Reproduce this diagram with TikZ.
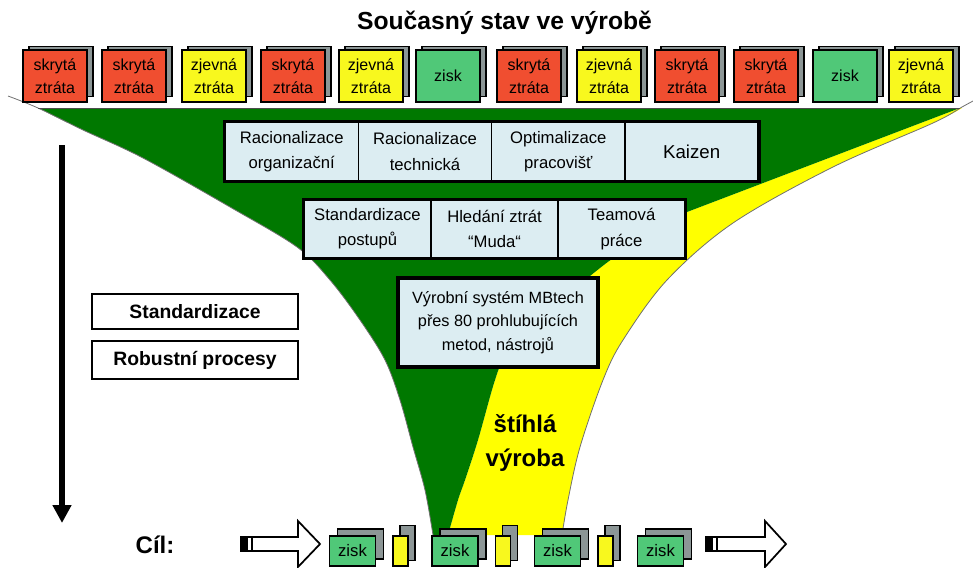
\documentclass[tikz,border=0pt]{standalone}
\usepackage{fontspec}
\setmainfont{Liberation Sans}
\usetikzlibrary{arrows.meta}
\definecolor{zred}{HTML}{F04E30}
\definecolor{zyel}{HTML}{F8F81E}
\definecolor{zgrn}{HTML}{50C878}
\definecolor{zgry}{HTML}{8C9696}
\definecolor{fgrn}{HTML}{007800}
\definecolor{fyel}{HTML}{FFFF00}
\definecolor{cellc}{HTML}{DCEDF2}
\definecolor{edgec}{HTML}{707070}
\begin{document}
\begin{tikzpicture}[x=0.75pt,y=-0.75pt,
  topbox/.style={draw=black, line width=0.9pt, minimum width=48pt, minimum height=39pt, inner sep=0pt, align=center, font=\fontsize{12}{17}\selectfont},
  shadowbox/.style={draw=black, line width=0.9pt, fill=zgry, minimum width=48pt, minimum height=38pt, inner sep=0pt},
  cellbox/.style={draw=black, line width=0.8pt, fill=cellc, inner sep=0pt, align=center, font=\fontsize{12.5}{19}\selectfont},
  frame/.style={draw=black, line width=2.6pt},
  labelbox/.style={draw=black, line width=2pt, fill=white, minimum width=154.5pt, inner sep=0pt, font=\bfseries\fontsize{14.5}{17}\selectfont},
  bzisk/.style={draw=black, line width=0.9pt, fill=zgrn, minimum width=34.5pt, minimum height=22.5pt, inner sep=0pt, font=\fontsize{12.5}{14}\selectfont},
  bshadow/.style={draw=black, line width=0.9pt, fill=zgry, minimum width=34.5pt, minimum height=22.5pt, inner sep=0pt},
  ybar/.style={draw=black, line width=0.9pt, fill=zyel, minimum width=11.25pt, minimum height=22.5pt, inner sep=0pt},
  gbar/.style={draw=black, line width=0.9pt, fill=zgry, minimum width=11.25pt, minimum height=26pt, inner sep=0pt},
  blockarrow/.style={draw=black, line width=1.3pt, fill=white, line join=miter}
]
\useasboundingbox (0,0) rectangle (973,567);

% funnel: yellow part
\fill[fyel] plot[smooth, tension=0.55] coordinates {(962,108) (933,123) (833,167) (733,223) (667,280) (623,340) (603,380) (580,447) (568,500) (562,535)}
  -- plot[smooth, tension=0.55] coordinates {(448,535) (458,500) (465,480) (478,440) (495,380) (505,360) (545,315) (600,268) (640,240) (687,212)}
  -- (960,108) -- cycle;
% funnel: green part
\fill[fgrn] (38,108) -- (960,108) -- (687,212)
  -- plot[smooth, tension=0.55] coordinates {(687,212) (640,240) (600,268) (545,315) (505,360) (495,380) (478,440) (465,480) (458,500) (448,535)}
  -- plot[smooth, tension=0.55] coordinates {(433,535) (425,490) (413,447) (400,400) (385,360) (360,320) (330,280) (297,247) (230,207) (143,158) (83,130) (38,108)}
  -- cycle;
% funnel outlines
\draw[edgec, line width=0.6pt] plot[smooth, tension=0.55] coordinates {(8,96) (38,108) (83,130) (143,158) (230,207) (297,247) (330,280) (360,320) (385,360) (400,400) (413,447) (425,490) (433,535)};
\draw[edgec, line width=0.6pt] plot[smooth, tension=0.55] coordinates {(973,101) (962,107) (933,123) (833,167) (733,223) (667,280) (623,340) (603,380) (580,447) (568,500) (562,535)};
\draw[black!70, line width=0.6pt] (38,108) -- (960,108);

% title
\node[font=\bfseries\fontsize{18.5}{20}\selectfont] (title) at (504.5,23) {Současný stav ve výrobě};

% top row of boxes
\foreach \i/\l/\c/\t in {1/23/zred/{skrytá\\ztráta}, 2/102/zred/{skrytá\\ztráta}, 3/182/zyel/{zjevná\\ztráta}, 4/261/zred/{skrytá\\ztráta}, 5/339/zyel/{zjevná\\ztráta}, 6/416/zgrn/{zisk}, 7/497/zred/{skrytá\\ztráta}, 8/577/zyel/{zjevná\\ztráta}, 9/655/zred/{skrytá\\ztráta}, 10/734/zred/{skrytá\\ztráta}, 11/813/zgrn/{zisk}, 12/889/zyel/{zjevná\\ztráta}} {
  \node[shadowbox] (s\i) at (\l+38,71.5) {};
  \node[topbox, fill=\c] (t\i) at (\l+32,76) {\t};
}

% first row of methods
\node[cellbox, minimum width=100pt, minimum height=44.25pt] (ra) at (291.67,151.5) {Racionalizace\\organizační};
\node[cellbox, minimum width=100pt, minimum height=44.25pt] (rb) at (425,151.5) {Racionalizace\\technická};
\node[cellbox, minimum width=100pt, minimum height=44.25pt] (rc) at (558.33,151.5) {Optimalizace\\pracovišť};
\node[cellbox, minimum width=100pt, minimum height=44.25pt, font=\fontsize{14}{17}\selectfont] (rd) at (691.67,151.5) {Kaizen};
\draw[frame] (ra.north west) rectangle (rd.south east);

% second row of methods
\node[cellbox, minimum width=95.25pt, minimum height=43.5pt] (qa) at (367.5,229) {Standardizace\\postupů};
\node[cellbox, minimum width=95.25pt, minimum height=43.5pt] (qb) at (494.5,229) {Hledání ztrát\\“Muda“};
\node[cellbox, minimum width=95.25pt, minimum height=43.5pt] (qc) at (621.5,229) {Teamová\\práce};
\draw[frame] (qa.north west) rectangle (qc.south east);

% MBtech box
\node[cellbox, line width=2.6pt, minimum width=150pt, minimum height=66.75pt, font=\fontsize{12.2}{17.5}\selectfont] (mb) at (498,322.5) {Výrobní systém MBtech\\přes 80 prohlubujících\\metod, nástrojů};

% lean label
\node[font=\bfseries\fontsize{18}{26}\selectfont, align=center] (lean) at (525,443) {štíhlá\\výroba};

% left side
\coordinate (va) at (62,145);
\coordinate (vb) at (62,523);
\draw[line width=4.5pt, -{Triangle[width=13.5pt,length=13.5pt]}] (va) -- (vb);
\node[labelbox, minimum height=26.25pt] (std) at (195,311.5) {Standardizace};
\node[labelbox, minimum height=28.5pt] (rob) at (195,360) {Robustní procesy};

% goal
\node[font=\bfseries\fontsize{18}{20}\selectfont] (cil) at (155,545) {Cíl:};

% left block arrow
\draw[blockarrow] (241,537) -- (298,537) -- (298,521) -- (320,544) -- (298,567) -- (298,551) -- (241,551) -- cycle;
\fill[black] (241,537) rectangle (248,551);
\fill[black] (250.5,537) rectangle (253,551);
% right block arrow
\draw[blockarrow] (706,537) -- (765,537) -- (765,521) -- (786,544) -- (765,567) -- (765,551) -- (706,551) -- cycle;
\fill[black] (706,537) rectangle (713,551);
\fill[black] (715.5,537) rectangle (718,551);

% bottom boxes
\foreach \i/\x in {1/352.5, 2/455, 3/557.5, 4/660.5} {
  \node[bshadow] (bs\i) at (\x+8,544) {};
  \node[bzisk] (bz\i) at (\x,551) {zisk};
}
\foreach \i/\x in {1/400.5, 2/503, 3/605.5} {
  \node[gbar] (gb\i) at (\x+7,543) {};
  \node[ybar] (yb\i) at (\x,551) {};
}
\end{tikzpicture}
\end{document}
